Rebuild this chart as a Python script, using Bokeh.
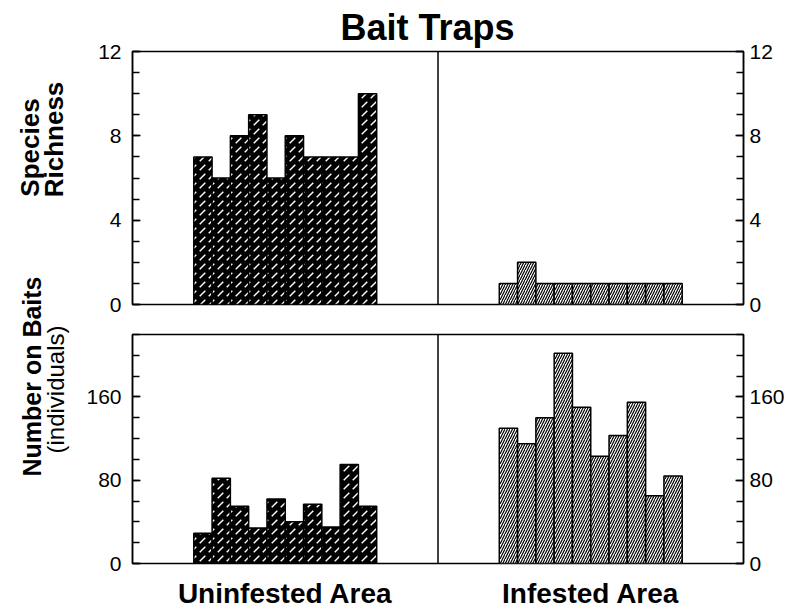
import numpy as np
from bokeh.plotting import figure
from bokeh.models import LinearAxis, FixedTicker, Span, Range1d
from bokeh.layouts import column, row
from bokeh.core.properties import value
from bokeh.embed import file_html
from bokeh.resources import INLINE

# ---- data ----
areas = ["Uninfested Area", "Infested Area"]
richness_uninfested = [7, 6, 8, 9, 6, 8, 7, 7, 7, 10]
richness_infested = [1, 2, 1, 1, 1, 1, 1, 1, 1, 1]
number_uninfested = [29, 82, 55, 34, 62, 40, 57, 35, 95, 55]
number_infested = [130, 115, 140, 202, 150, 103, 123, 155, 65, 84]
richness_major = [0, 4, 8, 12]
richness_minor = list(range(0, 13, 1))
number_major = [0, 80, 160]
number_minor = list(range(0, 221, 20))

FONT = "Liberation Sans"
PANEL = 16.7   # width of one area panel, in bar widths
LEAD = 3.35    # blank space before the first bar, in bar widths
CENTERS = [PANEL * 0.5, PANEL * 1.5]

LAB_W = 80          # width of the strip holding the rotated y titles
TOP_H = 51 + 253 + 15
BOT_H = 15 + 229 + 43
H = TOP_H + BOT_H


def bar_x(k, n):
    return k * PANEL + LEAD + 0.5 + np.arange(n)


def make_fig(ymax, major, minor, frame_h, b_top, b_bottom):
    p = figure(frame_width=611, frame_height=frame_h,
               x_range=Range1d(0, 2 * PANEL), y_range=Range1d(0, ymax),
               output_backend="svg", toolbar_location=None,
               min_border_left=132 - LAB_W, min_border_right=46,
               min_border_top=b_top, min_border_bottom=b_bottom)
    p.grid.visible = False
    p.outline_line_color = "black"
    p.outline_line_width = 1.5
    ticker = FixedTicker(ticks=major, minor_ticks=minor)
    p.yaxis.ticker = ticker
    p.add_layout(LinearAxis(ticker=ticker), "right")
    for ax in p.yaxis:
        ax.axis_line_color = "black"
        ax.axis_line_width = 1.5
        ax.major_tick_in = 8
        ax.major_tick_out = 0
        ax.minor_tick_in = 7
        ax.minor_tick_out = 0
        ax.major_tick_line_width = 1.5
        ax.minor_tick_line_width = 1.5
        ax.major_label_text_font = FONT
        ax.major_label_text_font_size = "21px"
        ax.major_label_text_color = "black"
    p.yaxis[0].major_label_standoff = 11
    p.yaxis[1].major_label_standoff = 6
    p.add_layout(Span(location=PANEL, dimension="height",
                      line_color="black", line_width=1.5))
    return p


def add_bars(p, left_vals, right_vals):
    p.vbar(x=bar_x(0, len(left_vals)), top=left_vals, width=1, bottom=0,
           fill_color="black", line_color="black", line_width=1.5,
           hatch_pattern=",", hatch_color="white", hatch_scale=9, hatch_weight=1.5)
    p.vbar(x=bar_x(1, len(right_vals)), top=right_vals, width=1, bottom=0,
           fill_color="white", line_color="black", line_width=1.5,
           hatch_pattern="/", hatch_color="black", hatch_scale=5, hatch_weight=1.2)


# ---- top: species richness ----
top = make_fig(12, richness_major, richness_minor, 253, 51, 15)
top.xaxis.visible = False
add_bars(top, richness_uninfested, richness_infested)
top.title.text = "Bait Traps"
top.title.align = "left"
top.title.offset = 208
top.title.text_font = FONT
top.title.text_font_size = "36px"
top.title.text_font_style = "bold"
top.title.text_color = "black"
top.title.standoff = 7

# ---- bottom: number on baits ----
bot = make_fig(220, number_major, number_minor, 229, 15, 43)
add_bars(bot, number_uninfested, number_infested)
bot.xaxis.ticker = FixedTicker(ticks=CENTERS)
bot.xaxis.major_label_overrides = {c: a for c, a in zip(CENTERS, areas)}
bot.xaxis.axis_line_color = None
bot.xaxis.major_tick_line_color = None
bot.xaxis.minor_tick_line_color = None
bot.xaxis.major_label_standoff = 8
bot.xaxis.major_label_text_font = FONT
bot.xaxis.major_label_text_font_size = "28px"
bot.xaxis.major_label_text_font_style = "bold"
bot.xaxis.major_label_text_color = "black"

# ---- strip with the rotated y-axis titles (they span both rows) ----
lab = figure(width=LAB_W, height=H, x_range=Range1d(0, LAB_W), y_range=Range1d(0, H),
             x_axis_type=None, y_axis_type=None, output_backend="svg",
             toolbar_location=None, min_border=0, min_border_left=0,
             min_border_right=0, min_border_top=0, min_border_bottom=0)
lab.grid.visible = False
lab.outline_line_color = None


def ytitle(text, px, py, size, style):
    lab.text(x=[px - 2], y=[H - (py - 1)], text=[text], angle=np.pi / 2,
             text_align="center", text_baseline="middle",
             text_font=value(FONT), text_font_size=size,
             text_font_style=style, text_color="black")


ytitle("Species", 31, 148, "26px", "bold")
ytitle("Richness", 55, 140, "26px", "bold")
ytitle("Number on Baits", 33, 377, "25px", "bold")
ytitle("(individuals)", 57, 390, "24px", "normal")

layout = row(lab, column(top, bot, spacing=0), spacing=0)
open("out.html", "w").write(file_html(layout, INLINE))
